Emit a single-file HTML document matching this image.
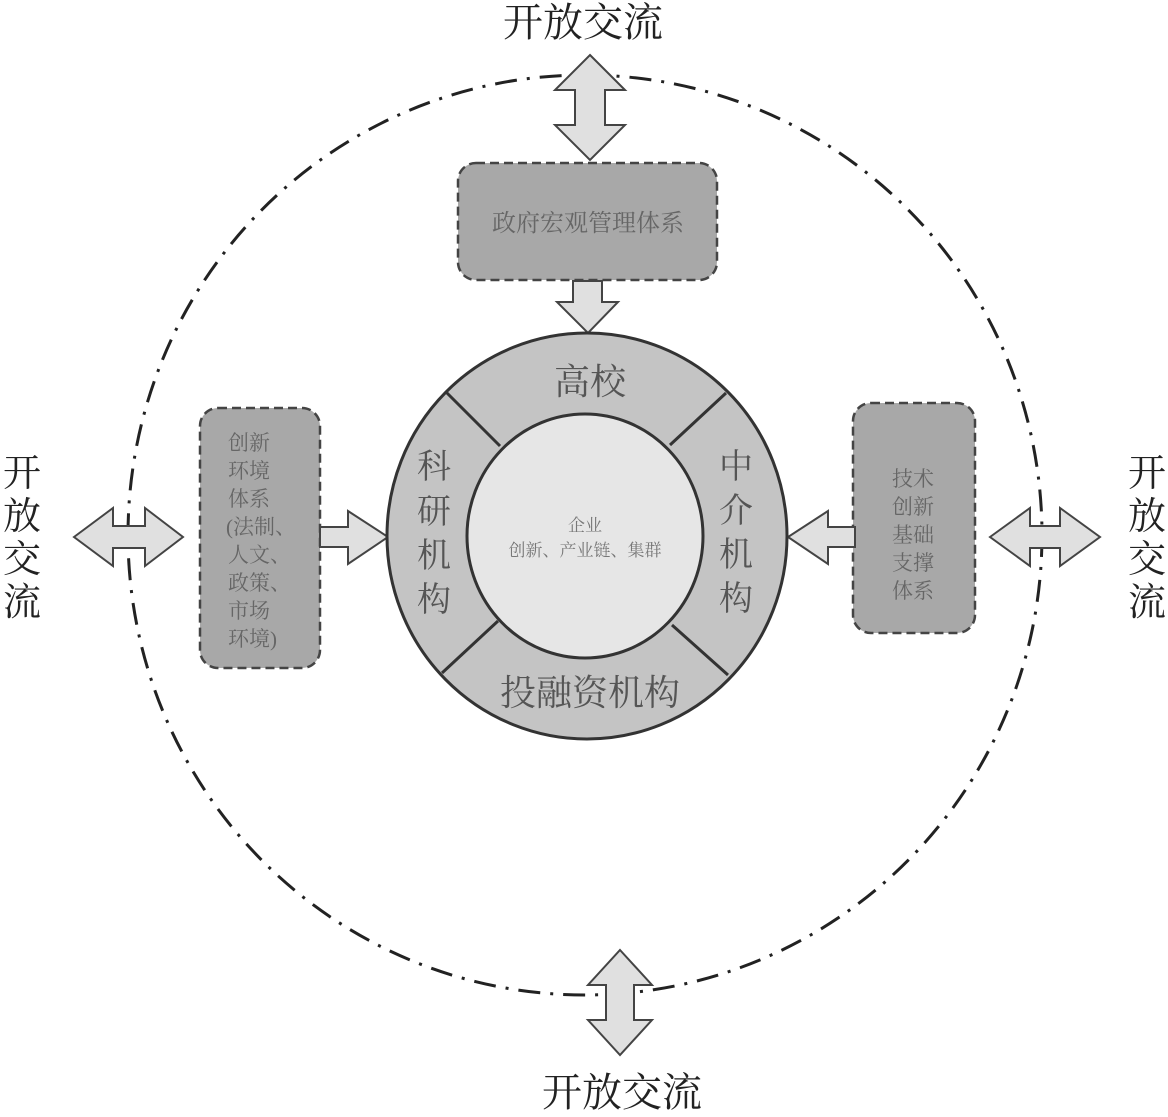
<!DOCTYPE html>
<html><head><meta charset="utf-8"><style>
body{margin:0;background:#fff;}
svg text{font-family:"Liberation Serif","Noto Serif CJK SC","Noto Sans CJK SC",serif;}
</style></head><body>
<svg width="1168" height="1112" viewBox="0 0 1168 1112" xmlns="http://www.w3.org/2000/svg">
<ellipse cx="585" cy="535" rx="457" ry="460" fill="none" stroke="#222" stroke-width="3" stroke-dasharray="22,10,3,10"/>
<polygon points="590,55 625,90 605,90 605,125 625,125 590,160 555,125 575,125 575,90 555,90" fill="#e0e0e0" stroke="#444" stroke-width="2"/>
<polygon points="620,950 652,985 634,985 634,1020 652,1020 620,1055 588,1020 606,1020 606,985 588,985" fill="#e0e0e0" stroke="#444" stroke-width="2"/>
<polygon points="74,537 113,508 113,526 145,526 145,508 183,537 145,566 145,548 113,548 113,566" fill="#e0e0e0" stroke="#444" stroke-width="2"/>
<polygon points="990,537 1030,508 1030,526 1060,526 1060,508 1100,537 1060,566 1060,548 1030,548 1030,566" fill="#e0e0e0" stroke="#444" stroke-width="2"/>
<rect x="458" y="163" width="259" height="117" rx="18" fill="#a8a8a8" stroke="#444" stroke-width="2.5" stroke-dasharray="9,5"/>
<text x="588" y="231" font-size="24" fill="#666" text-anchor="middle">政府宏观管理体系</text>
<polygon points="573,281 602,281 602,302 618,302 588,333 557,302 573,302" fill="#e0e0e0" stroke="#444" stroke-width="2"/>
<rect x="200" y="408" width="120" height="260" rx="18" fill="#a8a8a8" stroke="#444" stroke-width="2.5" stroke-dasharray="9,5"/>
<g font-size="21" fill="#666">
<text x="228" y="450">创新</text><text x="228" y="478">环境</text><text x="228" y="506">体系</text><text x="226" y="534">(法制、</text><text x="228" y="562">人文、</text><text x="228" y="590">政策、</text><text x="228" y="618">市场</text><text x="228" y="646">环境)</text>
</g>
<polygon points="320,527 348,527 348,511 388,537 348,564 348,547 320,547" fill="#e0e0e0" stroke="#444" stroke-width="2"/>
<rect x="853" y="403" width="122" height="230" rx="18" fill="#a8a8a8" stroke="#444" stroke-width="2.5" stroke-dasharray="9,5"/>
<g font-size="21" fill="#666">
<text x="892" y="486">技术</text><text x="892" y="514">创新</text><text x="892" y="542">基础</text><text x="892" y="570">支撑</text><text x="892" y="598">体系</text>
</g>
<polygon points="855,527 828,527 828,511 788,537 828,564 828,547 855,547" fill="#e0e0e0" stroke="#444" stroke-width="2"/>
<ellipse cx="587" cy="536" rx="200" ry="203" fill="#c4c4c4" stroke="#333" stroke-width="3"/>
<g stroke="#333" stroke-width="3">
<line x1="446" y1="392" x2="500" y2="446"/>
<line x1="726" y1="393" x2="670" y2="445"/>
<line x1="442" y1="673" x2="498" y2="621"/>
<line x1="728" y1="675" x2="672" y2="625"/>
</g>
<ellipse cx="585" cy="536" rx="118" ry="122" fill="#e6e6e6" stroke="#333" stroke-width="3"/>
<g font-size="36" fill="#555" text-anchor="middle">
<text x="590" y="394">高校</text>
<text x="590" y="705">投融资机构</text>
</g>
<g font-size="34" fill="#555" text-anchor="middle">
<text x="434" y="478">科</text><text x="434" y="523">研</text><text x="434" y="567">机</text><text x="434" y="611">构</text>
<text x="736" y="478">中</text><text x="736" y="522">介</text><text x="736" y="566">机</text><text x="736" y="610">构</text>
</g>
<g font-size="17" fill="#777" text-anchor="middle">
<text x="585" y="531">企业</text>
<text x="585" y="556">创新、产业链、集群</text>
</g>
<g font-size="40" fill="#222" text-anchor="middle">
<text x="583" y="36">开放交流</text>
<text x="622" y="1106">开放交流</text>
</g>
<g font-size="38" fill="#222" text-anchor="middle">
<text x="22" y="486">开</text><text x="22" y="529">放</text><text x="22" y="572">交</text><text x="22" y="615">流</text>
<text x="1147" y="486">开</text><text x="1147" y="529">放</text><text x="1147" y="572">交</text><text x="1147" y="615">流</text>
</g>
</svg>
</body></html>
